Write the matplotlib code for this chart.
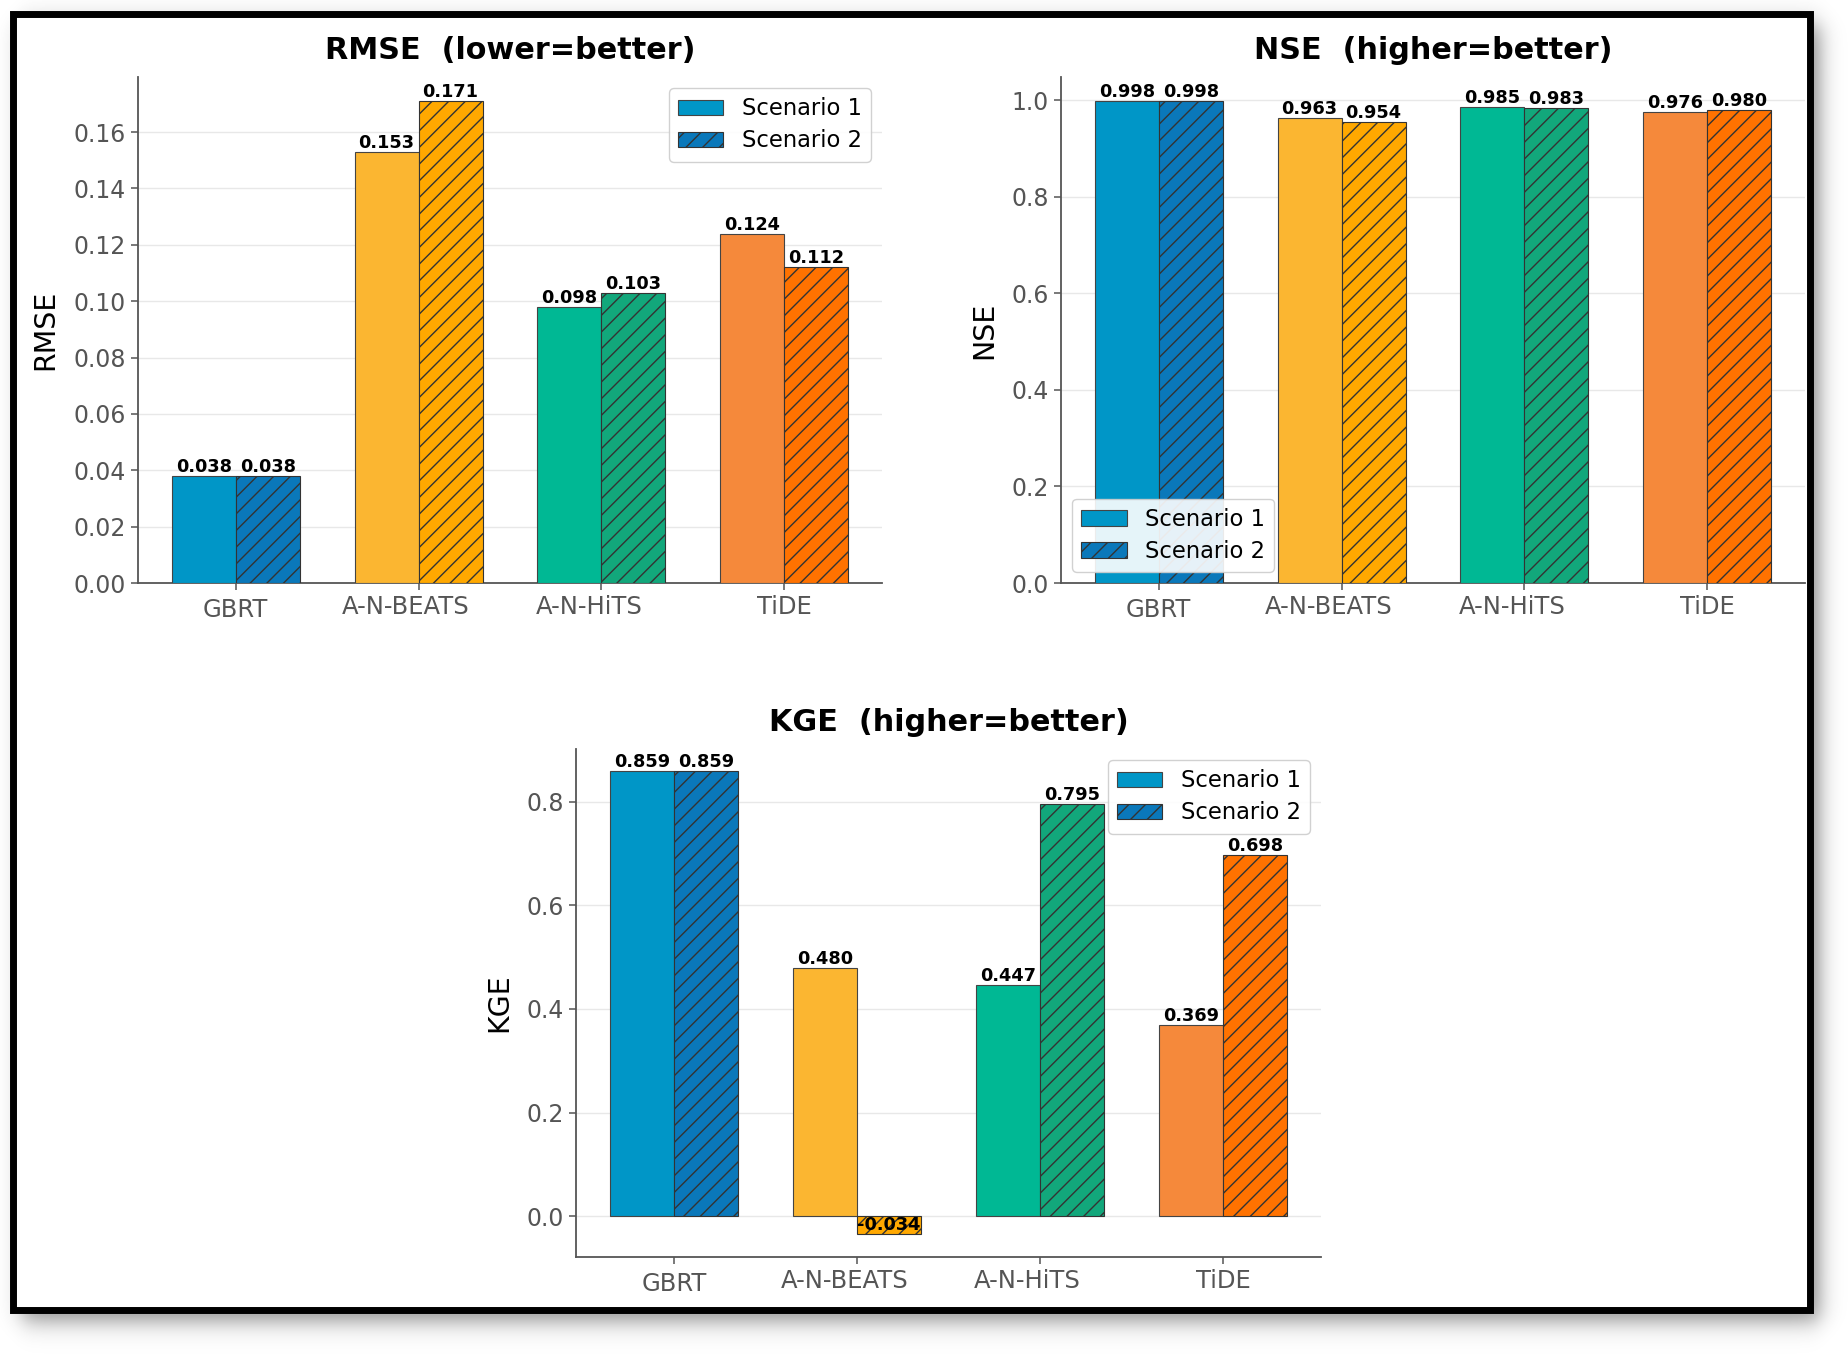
import numpy as np
import matplotlib

matplotlib.use("Agg")
import matplotlib.pyplot as plt
from matplotlib.patches import Patch, Rectangle
from matplotlib.ticker import MultipleLocator, FormatStrFormatter
from matplotlib.transforms import ScaledTranslation

models = ["GBRT", "A-N-BEATS", "A-N-HiTS", "TiDE"]
rmse_s1 = [0.038, 0.153, 0.098, 0.124]
rmse_s2 = [0.038, 0.171, 0.103, 0.112]
nse_s1 = [0.998, 0.963, 0.985, 0.976]
nse_s2 = [0.998, 0.954, 0.983, 0.980]
kge_s1 = [0.859, 0.480, 0.447, 0.369]
kge_s2 = [0.859, -0.034, 0.795, 0.698]

col_s1 = ["#0096C7", "#FBB631", "#00B894", "#F5893B"]
col_s2 = ["#0A78BA", "#FFA800", "#12A77B", "#FF7200"]

# small nudges of the x tick labels (points), as in the original
label_shift = [(0, -2.5), (-9, 0), (-9, 0), (0, 0)]

W, H = 1849, 1354
fig = plt.figure(figsize=(W / 100, H / 100), dpi=100)

# ---- background: drop shadow + black frame ----
bg = fig.add_axes([0, 0, 1, 1], zorder=-10)
bg.set_axis_off()


def soft(a, lo, hi, s):
    return 1 / (1 + np.exp(-(a - lo) / s)) - 1 / (1 + np.exp(-(a - hi) / s))


fx0, fy0, fx1, fy1 = 13, 14, 1810, 1310
sx = soft(np.arange(W), fx0 + 9, fx1 + 9, 6)
sy = soft(np.arange(H), fy0 + 10, fy1 + 10, 7)
shade = 1 - 0.45 * np.outer(sy, sx)
bg.imshow(shade, cmap="gray", vmin=0, vmax=1, aspect="auto", extent=(0, W, H, 0),
          interpolation="bilinear")
bg.add_patch(Rectangle((fx0, fy0), fx1 - fx0, fy1 - fy0, facecolor="white",
                       edgecolor="black", lw=5.0))
bg.set_xlim(0, W)
bg.set_ylim(H, 0)


def panel(rect, s1, s2, title, ylabel, loc):
    ax = fig.add_axes(rect)
    x = np.arange(len(models))
    w = 0.35
    ax.bar(x - w / 2, s1, w, color=col_s1, edgecolor="#444444", lw=0.8, zorder=3)
    ax.bar(x + w / 2, s2, w, color=col_s2, edgecolor="#333333", lw=0.8,
           hatch="//", zorder=3)
    for xi, v in zip(x - w / 2, s1):
        ax.text(xi, v, f"{v:.3f}", ha="center", va="bottom", fontsize=12.8,
                fontweight="bold", zorder=4)
    for xi, v in zip(x + w / 2, s2):
        ax.text(xi, v, f"{v:.3f}", ha="center", va="bottom", fontsize=12.8,
                fontweight="bold", zorder=4)
    ymax = max(s1 + s2) * 1.05
    ymin = min(s1 + s2) - 0.05 * ymax if min(s1 + s2) < 0 else 0
    ax.set_ylim(ymin, ymax)
    ax.set_xticks(x)
    ax.set_xticklabels(models, fontsize=17.5, color="#222222")
    ax.tick_params(axis="y", labelsize=17, labelcolor="#222222")
    ax.tick_params(colors="#555555", width=1.1, length=5)
    for lbl, (dx, dy) in zip(ax.get_xticklabels(), label_shift):
        lbl.set_transform(lbl.get_transform()
                          + ScaledTranslation(dx / 72, dy / 72, fig.dpi_scale_trans))
    ax.set_title(title, fontsize=21.8, fontweight="bold", pad=13)
    ax.set_ylabel(ylabel, fontsize=20.5, labelpad=10)
    ax.grid(axis="y", color="#e8e8e8", lw=1.0, zorder=0)
    ax.set_axisbelow(True)
    for s in ["top", "right"]:
        ax.spines[s].set_visible(False)
    for s in ["left", "bottom"]:
        ax.spines[s].set_color("#555555")
        ax.spines[s].set_linewidth(1.3)
    handles = [Patch(facecolor=col_s1[0], edgecolor="#444444", lw=0.8, label="Scenario 1"),
               Patch(facecolor=col_s2[0], edgecolor="#333333", lw=0.8, hatch="//",
                     label="Scenario 2")]
    ax.legend(handles=handles, loc=loc, fontsize=16.3, framealpha=0.9,
              edgecolor="#cccccc", labelspacing=0.4)
    return ax


ax1 = panel([0.0746, 0.5694, 0.4024, 0.3737], rmse_s1, rmse_s2,
            "RMSE  (lower=better)", "RMSE", "upper right")
ax1.yaxis.set_major_locator(MultipleLocator(0.02))
ax1.yaxis.set_major_formatter(FormatStrFormatter("%.2f"))

ax2 = panel([0.5738, 0.5694, 0.4024, 0.3737], nse_s1, nse_s2,
            "NSE  (higher=better)", "NSE", "lower left")
ax2.yaxis.set_major_locator(MultipleLocator(0.2))

ax3 = panel([0.3115, 0.0716, 0.4029, 0.3752], kge_s1, kge_s2,
            "KGE  (higher=better)", "KGE", "upper right")
ax3.yaxis.set_major_locator(MultipleLocator(0.2))

fig.savefig("out.png", dpi=100)
